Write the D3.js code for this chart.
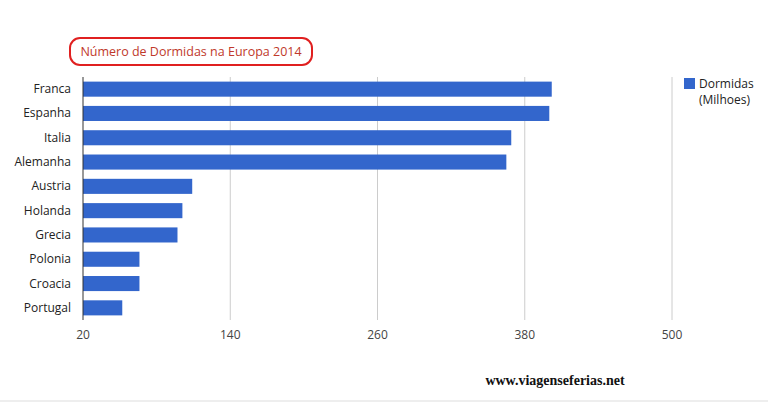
<!DOCTYPE html><html><head><meta charset="utf-8"><script src="https://d3js.org/d3.v7.min.js"></script>
<style>body{margin:0;background:#fff}</style></head><body><script>
const categories=["Franca","Espanha","Italia","Alemanha","Austria","Holanda","Grecia","Polonia","Croacia","Portugal"];
const values=[402,400,369,365,109,101,97,66,66,52];
const ticks=[20,140,260,380,500];
const W=768,H=404;
const svg=d3.select("body").append("svg").attr("width",W).attr("height",H).style("font-family","'Open Sans', Arial, sans-serif");
const x=d3.scaleLinear().domain([20,500]).range([83,672]);
const y=d3.scaleBand().domain(categories).range([77,320]).paddingInner(0.38).paddingOuter(0.19);
svg.append("g").selectAll("line").data(ticks.slice(1)).join("line").attr("x1",d=>x(d)).attr("x2",d=>x(d)).attr("y1",77).attr("y2",320).attr("stroke","#ccc");
svg.append("g").selectAll("rect").data(values).join("rect").attr("x",x(20)).attr("y",(d,i)=>y(categories[i])).attr("width",d=>x(d)-x(20)).attr("height",y.bandwidth()).attr("fill","#3366cc");
svg.append("line").attr("x1",83).attr("x2",83).attr("y1",77).attr("y2",320).attr("stroke","#333");
svg.append("g").selectAll("text").data(categories).join("text").attr("x",71).attr("y",d=>y(d)+y.bandwidth()/2+4).attr("text-anchor","end").attr("font-size",12).attr("fill","#222").text(d=>d);
svg.append("g").selectAll("text").data(ticks).join("text").attr("x",d=>x(d)).attr("y",339).attr("text-anchor","middle").attr("font-size",12).attr("fill","#444").text(d=>d);
svg.append("rect").attr("x",70).attr("y",38).attr("width",242).attr("height",27).attr("rx",10).attr("fill","none").attr("stroke","#e02020").attr("stroke-width",2);
svg.append("text").attr("x",191).attr("y",56).attr("text-anchor","middle").attr("font-size",12.5).attr("fill","#c0392b").text("Número de Dormidas na Europa 2014");
svg.append("rect").attr("x",684).attr("y",78).attr("width",11).attr("height",11).attr("fill","#3366cc");
svg.append("text").attr("x",699).attr("y",88).attr("font-size",12).attr("fill","#222").text("Dormidas");
svg.append("text").attr("x",699).attr("y",104).attr("font-size",12).attr("fill","#222").text("(Milhoes)");
svg.append("text").attr("x",555).attr("y",385).attr("text-anchor","middle").attr("font-size",14).attr("font-weight","bold").attr("font-family","'Liberation Serif', serif").attr("fill","#111").text("www.viagenseferias.net");
svg.append("line").attr("x1",0).attr("x2",W).attr("y1",401).attr("y2",401).attr("stroke","#ddd");
</script></body></html>
